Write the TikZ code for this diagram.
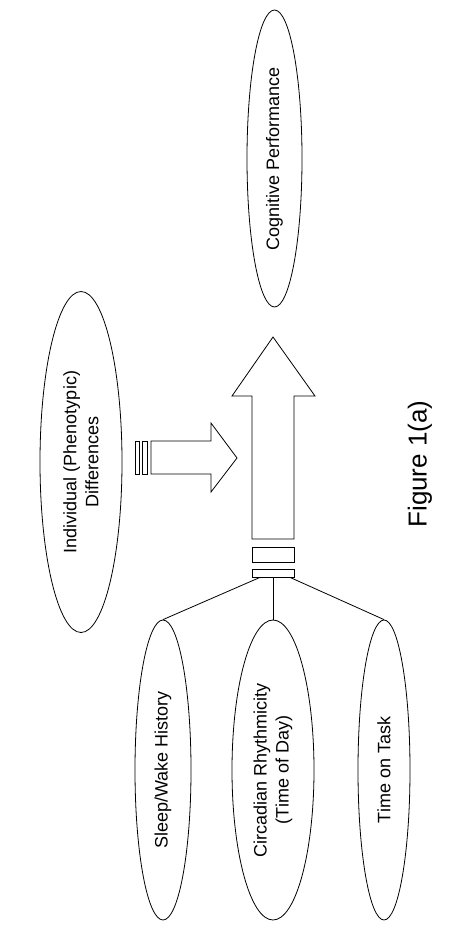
\documentclass[tikz,border=0pt]{standalone}
\usepackage{fontspec}
\setmainfont{Liberation Sans}
\usetikzlibrary{shapes.geometric,calc}

\begin{document}
\begin{tikzpicture}
			[x=1pt,y=-1pt,line join=miter,
			%Styles
			blob/.style={draw,ellipse,rotate=90,inner sep=0pt,line width=0.8pt,align=center,
				font=\fontsize{18}{22}\selectfont},
			bar/.style={draw,rectangle,inner sep=0pt,line width=0.8pt},
			outline/.style={line width=0.8pt},
			link/.style={line width=0.8pt}
			]
			
			%Frame
			\useasboundingbox (0,0) rectangle (474,934);
			
			%The graphic
			\node[blob,minimum width=297pt,minimum height=55pt] (perf) at (274.5,158.5) {Cognitive Performance};
			\node[blob,minimum width=341pt,minimum height=82pt] (indiv) at (81,462) {Individual (Phenotypic)\\Differences};
			
			\node[blob,minimum width=300pt,minimum height=56pt] (sleep) at (163,770) {Sleep/Wake History};
			\node[blob,minimum width=300pt,minimum height=82pt] (circ) at (273,770) {Circadian Rhythmicity\\(Time of Day)};
			\node[blob,minimum width=300pt,minimum height=52pt] (task) at (384,770) {Time on Task};
			
			%big arrow
			\draw[outline] (252,539) -- (252,396) -- (232,396) -- (273,337) -- (315,396) -- (294,396) -- (294,539) -- cycle;
			\node[bar,minimum width=42pt,minimum height=15pt] (bar1) at (273,554.5) {};
			\node[bar,minimum width=42pt,minimum height=8pt] (bar2) at (273,573) {};
			
			%small arrow
			\draw[outline] (151,441) -- (211,441) -- (211,423) -- (237,458) -- (211,492) -- (211,474) -- (151,474) -- cycle;
			\node[bar,minimum width=4pt,minimum height=33pt] (stripe1) at (137,457.5) {};
			\node[bar,minimum width=5pt,minimum height=33pt] (stripe2) at (144.5,457.5) {};
			
			\draw[link] ($(bar2.south)+(-13,0)$) -- (sleep.east);
			\draw[link] (bar2.south) -- (circ.east);
			\draw[link] ($(bar2.south)+(17,0)$) -- (task.east);
			
			\node[rotate=90,font=\fontsize{26}{30}\selectfont] (caption) at (420,464) {Figure 1(a)};
		\end{tikzpicture}
\end{document}
